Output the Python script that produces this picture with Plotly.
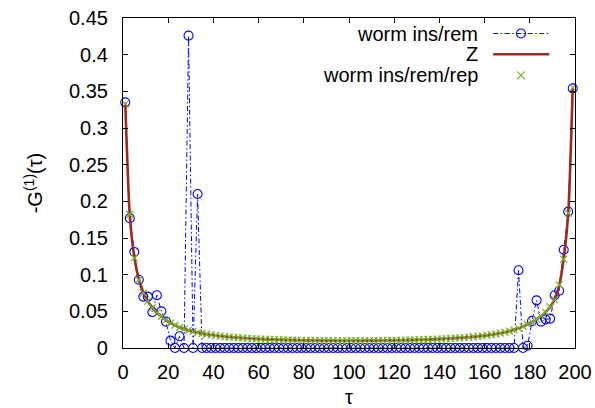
import plotly.graph_objects as go

tau = list(range(1, 200, 2))

worm_ins_rem = [
    0.335, 0.177, 0.131, 0.093, 0.070, 0.070, 0.049, 0.072, 0.050, 0.036,
    0.010, 0.000, 0.016, 0.000, 0.426, 0.000, 0.210,
    0.0, 0.0, 0.0, 0.0, 0.0, 0.0, 0.0, 0.0, 0.0, 0.0,
    0.0, 0.0, 0.0, 0.0, 0.0, 0.0, 0.0, 0.0, 0.0, 0.0,
    0.0, 0.0, 0.0, 0.0, 0.0, 0.0, 0.0, 0.0, 0.0, 0.0,
    0.0, 0.0, 0.0, 0.0, 0.0, 0.0, 0.0, 0.0, 0.0, 0.0,
    0.0, 0.0, 0.0, 0.0, 0.0, 0.0, 0.0, 0.0, 0.0, 0.0,
    0.0, 0.0, 0.0, 0.0, 0.0, 0.0, 0.0, 0.0, 0.0, 0.0,
    0.0, 0.0, 0.0, 0.0, 0.0, 0.0, 0.0, 0.0, 0.0, 0.0,
    0.106, 0.000, 0.003, 0.037, 0.065, 0.036, 0.039, 0.040, 0.072, 0.078,
    0.134, 0.186, 0.354,
]

z_exact = [
    0.334, 0.181, 0.124, 0.094, 0.076, 0.064, 0.055, 0.048, 0.043, 0.038,
    0.034, 0.031, 0.028, 0.026, 0.024, 0.0225, 0.021, 0.0198, 0.0187, 0.0178,
    0.0170, 0.0163, 0.0156, 0.0150, 0.0145, 0.0140, 0.0136, 0.0132, 0.0128, 0.0125,
    0.0122, 0.0119, 0.0117, 0.0115, 0.0113, 0.0111, 0.0109, 0.0108, 0.0107, 0.0105,
    0.0104, 0.0103, 0.0102, 0.0101, 0.0101, 0.0100, 0.0100, 0.0099, 0.0099, 0.0099,
    0.0099, 0.0099, 0.0099, 0.0100, 0.0100, 0.0101, 0.0101, 0.0102, 0.0103, 0.0104,
    0.0105, 0.0106, 0.0107, 0.0109, 0.0110, 0.0112, 0.0114, 0.0116, 0.0118, 0.0121,
    0.0124, 0.0127, 0.0130, 0.0134, 0.0138, 0.0142, 0.0147, 0.0152, 0.0158, 0.0165,
    0.0172, 0.0181, 0.0191, 0.0202, 0.0215, 0.0230, 0.0248, 0.0268, 0.0292, 0.0320,
    0.0352, 0.0390, 0.0435, 0.0490, 0.0560, 0.0660, 0.0850, 0.1220, 0.1830, 0.3550,
]

worm_ins_rem_rep = [
    0.333, 0.182, 0.123, 0.093, 0.075, 0.064, 0.055, 0.048, 0.043, 0.038,
    0.034, 0.031, 0.028, 0.026, 0.024, 0.0225, 0.021, 0.0198, 0.0187, 0.0178,
    0.0170, 0.0163, 0.0156, 0.0150, 0.0145, 0.0140, 0.0136, 0.0132, 0.0128, 0.0125,
    0.0122, 0.0119, 0.0117, 0.0115, 0.0113, 0.0111, 0.0109, 0.0108, 0.0107, 0.0105,
    0.0104, 0.0103, 0.0102, 0.0101, 0.0101, 0.0100, 0.0100, 0.0099, 0.0099, 0.0099,
    0.0099, 0.0099, 0.0099, 0.0100, 0.0100, 0.0101, 0.0101, 0.0102, 0.0103, 0.0104,
    0.0105, 0.0106, 0.0107, 0.0109, 0.0110, 0.0112, 0.0114, 0.0116, 0.0118, 0.0121,
    0.0124, 0.0127, 0.0130, 0.0134, 0.0138, 0.0142, 0.0147, 0.0152, 0.0158, 0.0165,
    0.0172, 0.0181, 0.0191, 0.0202, 0.0215, 0.0230, 0.0248, 0.0268, 0.0292, 0.0320,
    0.0352, 0.0390, 0.0435, 0.0490, 0.0560, 0.0660, 0.0860, 0.1210, 0.1840, 0.3550,
]

series_names = ["worm ins/rem", "Z", "worm ins/rem/rep"]
x_ticks = list(range(0, 201, 20))
y_ticks = [0, 0.05, 0.1, 0.15, 0.2, 0.25, 0.3, 0.35, 0.4, 0.45]

BLUE = "#0000ff"
RED = "#9e2a1c"
GREEN = "#76b52c"
FONT = "Liberation Sans, Arial, sans-serif"
BLUE_DASH = "5px,2.5px,1.5px,2.5px"

fig = go.Figure()

fig.add_trace(go.Scatter(
    x=tau, y=worm_ins_rem, mode="lines+markers", name=series_names[0],
    line=dict(color=BLUE, width=1, dash=BLUE_DASH),
    marker=dict(symbol="circle-open", size=9, color=BLUE, line=dict(width=1.1, color=BLUE)),
    showlegend=False, cliponaxis=False,
))
fig.add_trace(go.Scatter(
    x=tau, y=z_exact, mode="lines", name=series_names[1],
    line=dict(color=RED, width=2.6, shape="spline", smoothing=0.6),
    showlegend=False,
))
fig.add_trace(go.Scatter(
    x=tau, y=worm_ins_rem_rep, mode="markers", name=series_names[2],
    marker=dict(symbol="x-thin-open", size=7, color=GREEN, line=dict(width=1.2, color=GREEN)),
    showlegend=False, cliponaxis=False,
))

# hand-built legend (text to the left of the samples, as in the source)
leg_rows = [0.953, 0.890, 0.826]
leg_x0, leg_x1, leg_mid, leg_text = 0.819, 0.943, 0.8805, 0.790
fig.add_trace(go.Scatter(
    x=[leg_x0, leg_x1], y=[leg_rows[0]] * 2, xaxis="x2", yaxis="y2", mode="lines",
    line=dict(color=BLUE, width=1, dash=BLUE_DASH), showlegend=False, hoverinfo="skip"))
fig.add_trace(go.Scatter(
    x=[leg_mid], y=[leg_rows[0]], xaxis="x2", yaxis="y2", mode="markers",
    marker=dict(symbol="circle-open", size=9, color=BLUE, line=dict(width=1.1, color=BLUE)),
    showlegend=False, hoverinfo="skip"))
fig.add_trace(go.Scatter(
    x=[leg_x0, leg_x1], y=[leg_rows[1]] * 2, xaxis="x2", yaxis="y2", mode="lines",
    line=dict(color=RED, width=2.6), showlegend=False, hoverinfo="skip"))
fig.add_trace(go.Scatter(
    x=[leg_mid], y=[leg_rows[2]], xaxis="x2", yaxis="y2", mode="markers",
    marker=dict(symbol="x-thin-open", size=8, color=GREEN, line=dict(width=1.2, color=GREEN)),
    showlegend=False, hoverinfo="skip"))

annotations = []
for name, yy in zip(series_names, leg_rows):
    annotations.append(dict(
        x=leg_text, y=yy, xref="x2", yref="y2", text=name, showarrow=False,
        xanchor="right", yanchor="middle", font=dict(family=FONT, size=20, color="black")))

fig.update_layout(
    width=595, height=408,
    margin=dict(l=123, r=20, t=18, b=60, autoexpand=False),
    paper_bgcolor="white", plot_bgcolor="white",
    font=dict(family=FONT, size=20, color="black"),
    showlegend=False,
    annotations=annotations,
    xaxis=dict(
        range=[0, 200], tickvals=x_ticks, ticks="inside", ticklen=5, tickwidth=1,
        tickcolor="black", showline=True, linecolor="black", linewidth=1.2,
        mirror="ticks", showgrid=False, zeroline=False, ticklabelstandoff=6,
        automargin=False,
        title=dict(text="τ", standoff=15, font=dict(size=20)),
    ),
    yaxis=dict(
        range=[0, 0.45], tickvals=y_ticks, ticks="inside", ticklen=5, tickwidth=1,
        tickcolor="black", showline=True, linecolor="black", linewidth=1.2,
        mirror="ticks", showgrid=False, zeroline=False, ticklabelstandoff=10,
        automargin=False,
        title=dict(text="-G<sup>(1)</sup>(τ)", standoff=20, font=dict(size=20)),
    ),
    xaxis2=dict(range=[0, 1], overlaying="x", visible=False, fixedrange=True),
    yaxis2=dict(range=[0, 1], overlaying="y", visible=False, fixedrange=True),
)

fig.write_html("out.html", config={"displayModeBar": False})

# remove the browser's default page margin so the figure sits at the window origin
with open("out.html", "r", encoding="utf-8") as fh:
    html = fh.read()
html = html.replace("<head>", "<head><style>html,body{margin:0;padding:0;overflow:hidden;}</style>", 1)
with open("out.html", "w", encoding="utf-8") as fh:
    fh.write(html)
